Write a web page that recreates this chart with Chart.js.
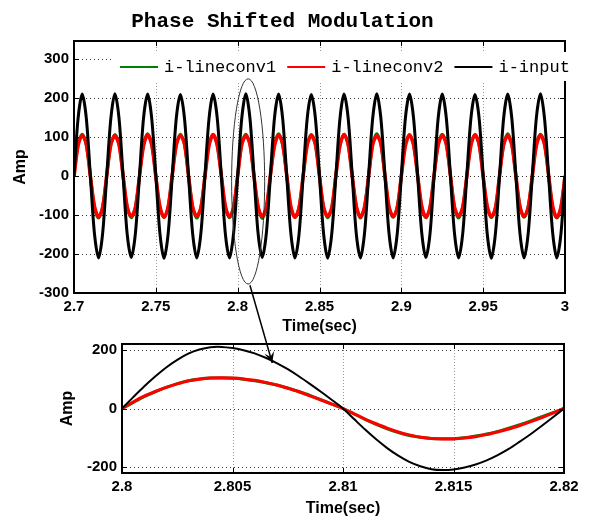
<!DOCTYPE html>
<html>
<head>
<meta charset="utf-8">
<script src="https://cdn.jsdelivr.net/npm/chart.js@4.4.0/dist/chart.umd.min.js"></script>
<style>
  html, body { margin: 0; padding: 0; background: #fff; }
  #wrap { position: relative; width: 589px; height: 521px; overflow: hidden; }
  #topCv { position: absolute; left: 0; top: 0; }
  #botCv { position: absolute; left: 0; top: 330px; }
  #overlay { position: absolute; left: 0; top: 0; pointer-events: none; }
  #title { position: absolute; left: 0; top: 10px; width: 565px; text-align: center;
           font: bold 21px "Liberation Mono", monospace; line-height: 24px; color: #000; }
</style>
</head>
<body>
<div id="wrap">
  <canvas id="topCv" width="589" height="340"></canvas>
  <canvas id="botCv" width="589" height="191"></canvas>
  <canvas id="overlay" width="589" height="521"></canvas>
  <div id="title">Phase Shifted Modulation</div>
</div>
<script>
// ---- data ----
const seriesNames = ['i-lineconv1', 'i-lineconv2', 'i-input'];

// top panel: 2.7 .. 3 s, one row per 50 Hz cycle
const topTime = [
  2.7, 2.7025, 2.705, 2.7075, 2.71, 2.7125, 2.715, 2.7175,
  2.72, 2.7225, 2.725, 2.7275, 2.73, 2.7325, 2.735, 2.7375,
  2.74, 2.7425, 2.745, 2.7475, 2.75, 2.7525, 2.755, 2.7575,
  2.76, 2.7625, 2.765, 2.7675, 2.77, 2.7725, 2.775, 2.7775,
  2.78, 2.7825, 2.785, 2.7875, 2.79, 2.7925, 2.795, 2.7975,
  2.8, 2.8025, 2.805, 2.8075, 2.81, 2.8125, 2.815, 2.8175,
  2.82, 2.8225, 2.825, 2.8275, 2.83, 2.8325, 2.835, 2.8375,
  2.84, 2.8425, 2.845, 2.8475, 2.85, 2.8525, 2.855, 2.8575,
  2.86, 2.8625, 2.865, 2.8675, 2.87, 2.8725, 2.875, 2.8775,
  2.88, 2.8825, 2.885, 2.8875, 2.89, 2.8925, 2.895, 2.8975,
  2.9, 2.9025, 2.905, 2.9075, 2.91, 2.9125, 2.915, 2.9175,
  2.92, 2.9225, 2.925, 2.9275, 2.93, 2.9325, 2.935, 2.9375,
  2.94, 2.9425, 2.945, 2.9475, 2.95, 2.9525, 2.955, 2.9575,
  2.96, 2.9625, 2.965, 2.9675, 2.97, 2.9725, 2.975, 2.9775,
  2.98, 2.9825, 2.985, 2.9875, 2.99, 2.9925, 2.995, 2.9975,
  3
];
const topConv1 = [
  0, 81, 107, 79, 2, -80, -108, -77,
  1, 79, 106, 81, -1, -79, -107, -80,
  -1, 80, 108, 78, 1, -81, -106, -79,
  2, 78, 107, 80, 0, -78, -108, -81,
  0, 81, 105, 79, 2, -80, -107, -78,
  1, 80, 107, 81, -1, -79, -109, -80,
  -1, 79, 108, 78, 1, -81, -106, -79,
  0, 81, 106, 80, 2, -80, -107, -81,
  2, 78, 107, 79, 0, -78, -108, -79,
  0, 80, 108, 81, -1, -81, -106, -78,
  1, 81, 106, 78, 1, -79, -107, -80,
  -1, 79, 107, 80, 2, -80, -108, -79,
  0, 80, 105, 79, 0, -81, -107, -81,
  2, 78, 108, 81, -1, -78, -106, -78,
  0, 81, 107, 80, 1, -80, -108, -80,
  0
];
const topConv2 = [
  -2, 78, 104, 82, -1, -77, -105, -82,
  2, 80, 103, 80, 1, -79, -104, -81,
  -1, 77, 105, 81, -2, -78, -106, -80,
  1, 79, 104, 82, 0, -80, -103, -82,
  -2, 78, 106, 79, 2, -77, -105, -81,
  0, 80, 103, 81, -1, -79, -104, -80,
  2, 77, 105, 82, 1, -78, -106, -82,
  -1, 79, 104, 80, -2, -80, -103, -81,
  1, 78, 106, 81, 0, -77, -105, -80,
  -2, 80, 103, 82, 2, -79, -104, -82,
  0, 77, 105, 79, -1, -78, -106, -81,
  2, 79, 104, 81, 1, -80, -103, -80,
  -1, 78, 106, 82, -2, -77, -105, -82,
  1, 80, 103, 80, 0, -79, -104, -81,
  -2, 77, 105, 81, 2, -78, -106, -80,
  0
];
const topInput = [
  0, 148, 210, 149, 0, -148, -210, -147,
  1, 147, 211, 148, -1, -149, -209, -148,
  0, 149, 210, 147, 1, -147, -211, -149,
  -1, 148, 209, 148, 0, -148, -210, -148,
  0, 147, 210, 149, 1, -149, -210, -147,
  0, 148, 211, 148, 0, -148, -209, -148,
  1, 149, 210, 147, -1, -147, -210, -149,
  0, 148, 209, 148, 0, -148, -211, -148,
  -1, 147, 210, 149, 1, -149, -210, -147,
  0, 148, 211, 148, 0, -148, -210, -148,
  1, 149, 210, 147, -1, -147, -209, -149,
  0, 148, 210, 148, 0, -148, -210, -148,
  0, 147, 209, 149, 1, -149, -211, -147,
  -1, 148, 210, 148, 0, -148, -210, -148,
  0, 149, 211, 147, -1, -147, -210, -149,
  0
];
const topXTicks = [2.7, 2.75, 2.8, 2.85, 2.9, 2.95, 3];
const topYTicks = [-300, -200, -100, 0, 100, 200, 300];

// bottom panel: zoom on one cycle, 2.8 .. 2.82 s
const botTime = [
  2.8, 2.8005, 2.801, 2.8015, 2.802, 2.8025, 2.803, 2.8035, 2.804, 2.8045,
  2.805, 2.8055, 2.806, 2.8065, 2.807, 2.8075, 2.808, 2.8085, 2.809, 2.8095,
  2.81, 2.8105, 2.811, 2.8115, 2.812, 2.8125, 2.813, 2.8135, 2.814, 2.8145,
  2.815, 2.8155, 2.816, 2.8165, 2.817, 2.8175, 2.818, 2.8185, 2.819, 2.8195,
  2.82
];
const botConv1 = [
  0, 20, 40, 57, 72, 85, 95, 101, 104, 104,
  103, 100, 95, 88, 80, 70, 58, 45, 30, 15,
  0, -18, -37, -54, -69, -82, -92, -98, -102, -103,
  -103, -100, -94, -87, -78, -67, -55, -42, -28, -14,
  0
];
const botConv2 = [
  0, 22, 42, 58, 72, 84, 94, 100, 104, 105,
  104, 101, 96, 89, 80, 69, 57, 43, 29, 15,
  0, -18, -36, -52, -67, -80, -90, -98, -102, -104,
  -104, -101, -96, -89, -80, -70, -58, -45, -31, -16,
  0
];
const botInput = [
  0, 38, 75, 109, 140, 166, 187, 201, 209, 210,
  206, 199, 188, 173, 155, 134, 110, 84, 57, 29,
  0, -36, -72, -105, -135, -161, -182, -197, -207, -210,
  -208, -201, -191, -177, -159, -138, -113, -87, -59, -30,
  0
];
const botXTicks = [2.8, 2.805, 2.81, 2.815, 2.82];
const botYTicks = [-200, 0, 200];

// ---- styling ----
const lineColors = ['#008000', '#ff0000', '#000000'];
const tickFont = { family: 'Liberation Sans, Arial, sans-serif', size: 15, weight: 'bold' };
const titleFont = { family: 'Liberation Sans, Arial, sans-serif', size: 16, weight: 'bold' };

function pts(xs, ys) {
  return xs.map((x, i) => ({ x: x, y: ys[i] }));
}

function makeDatasets(xs, series, widths, tension) {
  return series.map((ys, i) => ({
    label: seriesNames[i],
    data: pts(xs, ys),
    borderColor: lineColors[i],
    borderWidth: widths[i],
    pointRadius: 0,
    tension: tension,
    order: 3 - i
  }));
}

// dotted grid + box with inward ticks, matlab style
const framePlugin = {
  id: 'frame',
  beforeDatasetsDraw(chart) {
    const { ctx, chartArea: a, scales: { x, y } } = chart;
    ctx.save();
    ctx.lineWidth = 1;
    ctx.strokeStyle = '#333';
    ctx.setLineDash([1, 3]);
    y.ticks.forEach(t => {
      const py = Math.round(y.getPixelForValue(t.value)) + 0.5;
      ctx.beginPath(); ctx.moveTo(a.left, py); ctx.lineTo(a.right, py); ctx.stroke();
    });
    ctx.strokeStyle = '#999';
    ctx.setLineDash([1, 2]);
    x.ticks.forEach(t => {
      const px = Math.round(x.getPixelForValue(t.value)) + 0.5;
      ctx.beginPath(); ctx.moveTo(px, a.top); ctx.lineTo(px, a.bottom); ctx.stroke();
    });
    ctx.restore();
  },
  afterDatasetsDraw(chart) {
    const { ctx, chartArea: a, scales: { x, y } } = chart;
    ctx.save();
    ctx.strokeStyle = '#000';
    ctx.lineWidth = 1;
    const len = 5;
    x.ticks.forEach(t => {
      const px = Math.round(x.getPixelForValue(t.value)) + 0.5;
      ctx.beginPath();
      ctx.moveTo(px, a.bottom); ctx.lineTo(px, a.bottom - len);
      ctx.moveTo(px, a.top); ctx.lineTo(px, a.top + len);
      ctx.stroke();
    });
    y.ticks.forEach(t => {
      const py = Math.round(y.getPixelForValue(t.value)) + 0.5;
      ctx.beginPath();
      ctx.moveTo(a.left, py); ctx.lineTo(a.left + len, py);
      ctx.moveTo(a.right, py); ctx.lineTo(a.right - len, py);
      ctx.stroke();
    });
    ctx.lineWidth = 2;
    ctx.strokeRect(a.left, a.top, a.right - a.left, a.bottom - a.top);
    ctx.restore();
  }
};

// legend inside the top axes, on a white box
const legendPlugin = {
  id: 'insideLegend',
  afterDraw(chart) {
    const { ctx, chartArea: a } = chart;
    const bx = a.left + 39, by = a.top + 11;
    ctx.save();
    ctx.fillStyle = '#fff';
    ctx.fillRect(bx, by, 468, 29);
    ctx.font = '17px "Liberation Mono", monospace';
    ctx.textBaseline = 'middle';
    ctx.textAlign = 'left';
    let cx = bx + 7;
    const cy = by + 15;
    chart.data.datasets.forEach(ds => {
      ctx.strokeStyle = ds.borderColor;
      ctx.lineWidth = 2;
      ctx.beginPath(); ctx.moveTo(cx, cy); ctx.lineTo(cx + 38, cy); ctx.stroke();
      cx += 44;
      ctx.fillStyle = '#000';
      ctx.fillText(ds.label, cx, cy);
      cx += ctx.measureText(ds.label).width + 11;
    });
    ctx.restore();
  }
};

function makeOptions(o) {
  return {
    responsive: false,
    animation: false,
    devicePixelRatio: 1,
    events: [],
    layout: { padding: o.padding },
    plugins: { legend: { display: false }, tooltip: { enabled: false }, title: { display: false } },
    scales: {
      x: {
        type: 'linear',
        min: o.xMin, max: o.xMax,
        grid: { display: false, drawTicks: false },
        border: { display: false },
        afterBuildTicks: s => { s.ticks = o.xTicks.map(v => ({ value: v })); },
        afterFit: s => { s.height = o.xHeight; },
        ticks: { font: tickFont, color: '#000', padding: 5, maxRotation: 0, callback: v => String(v) },
        title: { display: true, text: 'Time(sec)', font: titleFont, color: '#000', padding: { top: 0, bottom: o.xTitlePad } }
      },
      y: {
        type: 'linear',
        min: o.yMin, max: o.yMax,
        grid: { display: false, drawTicks: false },
        border: { display: false },
        afterBuildTicks: s => { s.ticks = o.yTicks.map(v => ({ value: v })); },
        afterFit: s => { s.width = o.yWidth; },
        ticks: { font: tickFont, color: '#000', padding: 5, callback: v => String(v) },
        title: { display: true, text: 'Amp', font: titleFont, color: '#000', padding: { top: o.yTitlePad, bottom: 0 } }
      }
    }
  };
}

const topChart = new Chart(document.getElementById('topCv'), {
  type: 'line',
  data: { datasets: makeDatasets(topTime, [topConv1, topConv2, topInput], [3, 3.5, 3], 0.3) },
  options: makeOptions({
    padding: { left: 0, right: 24, top: 41, bottom: 0 },
    xMin: 2.7, xMax: 3, yMin: -300, yMax: 346,
    xTicks: topXTicks, yTicks: topYTicks,
    xHeight: 47, yWidth: 74, xTitlePad: 4, yTitlePad: 11
  }),
  plugins: [framePlugin, legendPlugin]
});

const botChart = new Chart(document.getElementById('botCv'), {
  type: 'line',
  data: { datasets: makeDatasets(botTime, [botConv1, botConv2, botInput], [3, 3, 2], 0.3) },
  options: makeOptions({
    padding: { left: 0, right: 25, top: 10, bottom: 0 },
    xMin: 2.8, xMax: 2.82, yMin: -220, yMax: 220,
    xTicks: botXTicks, yTicks: botYTicks,
    xHeight: 48, yWidth: 122, xTitlePad: 3, yTitlePad: 58
  }),
  plugins: [framePlugin]
});

// ---- annotation: ellipse on the top panel and arrow down to the zoom ----
const ringCenter = [2.8064, -14];
const ringRadius = [0.0101, 263];
const arrowFrom = [2.8075, -280];   // top panel units
const arrowTo = [2.8068, 155];      // bottom panel units

(function drawOverlay() {
  const ov = document.getElementById('overlay').getContext('2d');
  const tx = topChart.scales.x, ty = topChart.scales.y;
  const bx = botChart.scales.x, by = botChart.scales.y;
  const botTop = document.getElementById('botCv').offsetTop;

  const cx = tx.getPixelForValue(ringCenter[0]);
  const cy = ty.getPixelForValue(ringCenter[1]);
  const rx = tx.getPixelForValue(ringCenter[0] + ringRadius[0]) - cx;
  const ry = cy - ty.getPixelForValue(ringCenter[1] + ringRadius[1]);
  ov.strokeStyle = '#333';
  ov.lineWidth = 1;
  ov.beginPath();
  ov.ellipse(cx, cy, rx, ry, 0, 0, Math.PI * 2);
  ov.stroke();

  const x1 = tx.getPixelForValue(arrowFrom[0]), y1 = ty.getPixelForValue(arrowFrom[1]);
  const x2 = bx.getPixelForValue(arrowTo[0]), y2 = by.getPixelForValue(arrowTo[1]) + botTop;
  ov.strokeStyle = '#000';
  ov.lineWidth = 1.5;
  ov.beginPath(); ov.moveTo(x1, y1); ov.lineTo(x2, y2); ov.stroke();
  const ang = Math.atan2(y2 - y1, x2 - x1);
  const hl = 11, hw = 5;
  ov.fillStyle = '#000';
  ov.beginPath();
  ov.moveTo(x2, y2);
  ov.lineTo(x2 - hl * Math.cos(ang) + hw * Math.sin(ang), y2 - hl * Math.sin(ang) - hw * Math.cos(ang));
  ov.lineTo(x2 - 0.6 * hl * Math.cos(ang), y2 - 0.6 * hl * Math.sin(ang));
  ov.lineTo(x2 - hl * Math.cos(ang) - hw * Math.sin(ang), y2 - hl * Math.sin(ang) + hw * Math.cos(ang));
  ov.closePath();
  ov.fill();
})();
</script>
</body>
</html>
